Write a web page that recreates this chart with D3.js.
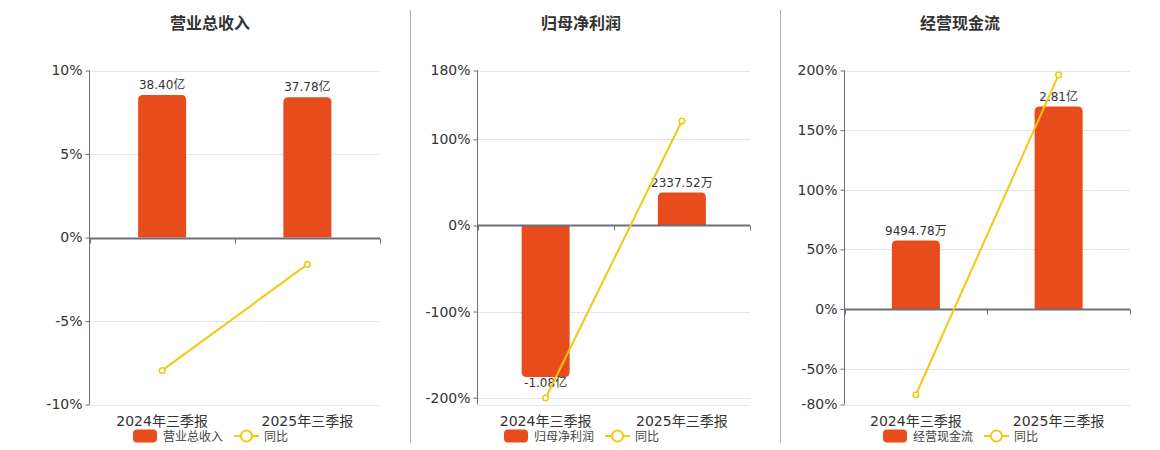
<!DOCTYPE html>
<html>
<head>
<meta charset="utf-8">
<script src="https://cdn.jsdelivr.net/npm/d3@7/dist/d3.min.js"></script>
<style>
  body { margin: 0; background: #ffffff; }
  text { font-family: "DejaVu Sans", "Noto Sans CJK SC", sans-serif; }
</style>
</head>
<body>
<div id="chart"></div>
<script>
// Chart data
var categories = ["2024年三季报", "2025年三季报"];
var panelTitles = ["营业总收入", "归母净利润", "经营现金流"];
var yoyName = "同比";

// 营业总收入 (亿)
var revenueValues = [38.40, 37.78];
var revenueLabels = ["38.40亿", "37.78亿"];
var revenueYoy = [-7.96, -1.61];
var revenueTicks = [-10, -5, 0, 5, 10];

// 归母净利润 (万)
var profitValues = [-10800, 2337.52];
var profitLabels = ["-1.08亿", "2337.52万"];
var profitYoy = [-200.5, 121.4];
var profitTicks = [-200, -100, 0, 100, 180];

// 经营现金流 (万)
var cashValues = [9494.78, 28100];
var cashLabels = ["9494.78万", "2.81亿"];
var cashYoy = [-71.8, 196.3];
var cashTicks = [-80, -50, 0, 50, 100, 150, 200];

// Axis extents (percent axis shown, value axis hidden but zero-aligned)
var revenuePctDomain = [-10, 10];
var revenueBarDomain = [-45, 45];
var profitPctDomain = [-208, 180];
var profitBarDomain = [-12764, 11037];
var cashPctDomain = [-80, 200];
var cashBarDomain = [-13278, 33110];

var barColor = "#e84b1c";
var lineColor = "#f2c811";
var gridColor = "#e0e6f1";
var axisColor = "#6e7079";
var textColor = "#333333";

var width = 1160, height = 450;

var svg = d3.select("#chart").append("svg")
    .attr("width", width)
    .attr("height", height);

// separators between the three panels
[410.5, 780.5].forEach(function(x) {
  svg.append("line")
     .attr("x1", x).attr("x2", x)
     .attr("y1", 10).attr("y2", 443)
     .style("stroke", "#b0b0b0")
     .style("stroke-width", 1);
});

var panels = [
  { title: panelTitles[0], values: revenueValues, labels: revenueLabels, yoy: revenueYoy,
    ticks: revenueTicks, pctDomain: revenuePctDomain, barDomain: revenueBarDomain,
    left: 89.5, right: 380, center: 210 },
  { title: panelTitles[1], values: profitValues, labels: profitLabels, yoy: profitYoy,
    ticks: profitTicks, pctDomain: profitPctDomain, barDomain: profitBarDomain,
    left: 477.5, right: 750, center: 581 },
  { title: panelTitles[2], values: cashValues, labels: cashLabels, yoy: cashYoy,
    ticks: cashTicks, pctDomain: cashPctDomain, barDomain: cashBarDomain,
    left: 844.5, right: 1130, center: 960 }
];

var plotTop = 70.5, plotBottom = 404.5;

// path for a bar with the far end rounded
function barPath(x, w, y0, y1, r) {
  var up = y1 < y0;
  var h = Math.abs(y1 - y0);
  r = Math.min(r, h / 2, w / 2);
  if (up) {
    return "M" + x + "," + y0 +
           "V" + (y1 + r) +
           "Q" + x + "," + y1 + " " + (x + r) + "," + y1 +
           "H" + (x + w - r) +
           "Q" + (x + w) + "," + y1 + " " + (x + w) + "," + (y1 + r) +
           "V" + y0 + "Z";
  }
  return "M" + x + "," + y0 +
         "V" + (y1 - r) +
         "Q" + x + "," + y1 + " " + (x + r) + "," + y1 +
         "H" + (x + w - r) +
         "Q" + (x + w) + "," + y1 + " " + (x + w) + "," + (y1 - r) +
         "V" + y0 + "Z";
}

function drawPanel(p) {

  var g = svg.append("g");

  var x = d3.scaleBand().domain(categories).range([p.left, p.right]);
  var yPct = d3.scaleLinear().domain(p.pctDomain).range([plotBottom, plotTop]);
  var yBar = d3.scaleLinear().domain(p.barDomain).range([plotBottom, plotTop]);

  // title
  g.append("text")
   .attr("x", p.center).attr("y", 29)
   .attr("text-anchor", "middle")
   .style("font-size", "16px")
   .style("font-weight", "bold")
   .attr("fill", textColor)
   .text(p.title);

  // grid lines
  var gridVals = p.ticks.slice();
  if (gridVals.indexOf(p.pctDomain[0]) < 0) gridVals.push(p.pctDomain[0]);
  g.selectAll(".grid").data(gridVals.filter(function(d) { return d !== 0; }))
   .enter().append("line")
   .attr("x1", p.left).attr("x2", p.right)
   .attr("y1", function(d) { return Math.round(yPct(d)) + 0.5; })
   .attr("y2", function(d) { return Math.round(yPct(d)) + 0.5; })
   .style("stroke", gridColor)
   .style("stroke-width", 1);

  // y axis
  var yAxis = d3.axisLeft(yPct)
      .tickValues(p.ticks)
      .tickSize(4)
      .tickPadding(3)
      .tickFormat(function(d) { return d + "%"; });
  var ya = g.append("g").attr("transform", "translate(" + p.left + ",0)").call(yAxis);
  ya.select(".domain").attr("d", "M0," + plotTop + "V" + plotBottom)
    .style("stroke", axisColor);
  ya.selectAll(".tick line").style("stroke", axisColor);
  ya.selectAll(".tick text")
    .style("font-size", "14px")
    .attr("fill", textColor);

  // bars
  var bw = 48;
  var y0 = yBar(0);
  g.selectAll(".bar").data(p.values).enter().append("path")
   .attr("d", function(d, i) {
     var cx = x(categories[i]) + x.bandwidth() / 2;
     return barPath(cx - bw / 2, bw, y0, yBar(d), 5);
   })
   .style("fill", barColor);

  // value labels
  g.selectAll(".vlabel").data(p.values).enter().append("text")
   .attr("x", function(d, i) { return x(categories[i]) + x.bandwidth() / 2; })
   .attr("y", function(d) { return d >= 0 ? yBar(d) - 6 : yBar(d) + 10; })
   .attr("text-anchor", "middle")
   .style("font-size", "12px")
   .attr("fill", textColor)
   .text(function(d, i) { return p.labels[i]; });

  // x axis at zero
  var xAxis = d3.axisBottom(x).tickSize(5).tickFormat("");
  var xa = g.append("g").attr("transform", "translate(0," + (Math.round(y0) + 0.5) + ")").call(xAxis);
  xa.select(".domain").attr("d", "M" + p.left + ",0H" + p.right)
    .style("stroke", axisColor).style("stroke-width", 2);
  xa.selectAll(".tick").remove();
  [p.left, (p.left + p.right) / 2, p.right].forEach(function(tx) {
    xa.append("line")
      .attr("x1", Math.round(tx) + 0.5).attr("x2", Math.round(tx) + 0.5)
      .attr("y1", 0).attr("y2", 5)
      .style("stroke", axisColor);
  });

  // category labels
  g.selectAll(".xlabel").data(categories).enter().append("text")
   .attr("x", function(d) { return x(d) + x.bandwidth() / 2; })
   .attr("y", 426)
   .attr("text-anchor", "middle")
   .style("font-size", "14px")
   .attr("fill", textColor)
   .text(function(d) { return d; });

  // yoy line
  var line = d3.line()
      .x(function(d, i) { return x(categories[i]) + x.bandwidth() / 2; })
      .y(function(d) { return yPct(d); });
  g.append("path")
   .datum(p.yoy)
   .attr("d", line)
   .style("fill", "none")
   .style("stroke", lineColor)
   .style("stroke-width", 2);
  g.selectAll(".dot").data(p.yoy).enter().append("circle")
   .attr("cx", function(d, i) { return x(categories[i]) + x.bandwidth() / 2; })
   .attr("cy", function(d) { return yPct(d); })
   .attr("r", 2.8)
   .style("fill", "#ffffff")
   .style("stroke", lineColor)
   .style("stroke-width", 1.5);

  // legend
  var lx = p.center - 77;
  var ly = 436;
  g.append("rect")
   .attr("x", lx).attr("y", ly - 6.5)
   .attr("width", 24).attr("height", 13)
   .attr("rx", 4).attr("ry", 4)
   .style("fill", barColor);
  g.append("text")
   .attr("x", lx + 30).attr("y", ly + 4.5)
   .style("font-size", "12px")
   .attr("fill", "#444444")
   .text(p.title);
  var lx2 = lx + 101;
  g.append("line")
   .attr("x1", lx2).attr("x2", lx2 + 25)
   .attr("y1", ly).attr("y2", ly)
   .style("stroke", lineColor).style("stroke-width", 2);
  g.append("circle")
   .attr("cx", lx2 + 12.5).attr("cy", ly).attr("r", 5.5)
   .style("fill", "#ffffff")
   .style("stroke", lineColor).style("stroke-width", 2);
  g.append("text")
   .attr("x", lx2 + 30).attr("y", ly + 4.5)
   .style("font-size", "12px")
   .attr("fill", "#444444")
   .text(yoyName);
}

panels.forEach(drawPanel);
</script>
</body>
</html>
